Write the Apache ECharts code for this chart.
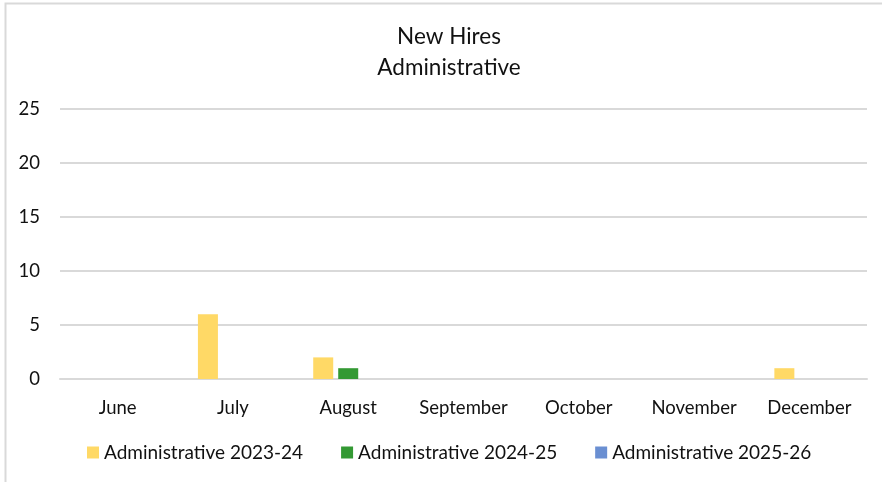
<!DOCTYPE html>
<html>
<head>
<meta charset="utf-8">
<title>New Hires - Administrative</title>
<script src="https://cdn.jsdelivr.net/npm/echarts@6/dist/echarts.min.js"></script>
<style>
  html, body { margin: 0; padding: 0; background: #fff; }
  #chart { width: 882px; height: 482px; }
</style>
</head>
<body>
<div id="chart"></div>
<script>
// data
const months = ['June', 'July', 'August', 'September', 'October', 'November', 'December']
const seriesNames = ['Administrative 2023-24', 'Administrative 2024-25', 'Administrative 2025-26']
const hires2324 = [0, 6, 2, 0, 0, 0, 1]
const hires2425 = [0, 0, 1, 0, 0, 0, 0]
const hires2526 = [0, 0, 0, 0, 0, 0, 0]
const colors = ['#FFD966', '#339933', '#6A8FD2']

const font = 'Lato, "Open Sans", "Noto Sans", sans-serif'
const chart = echarts.init(document.getElementById('chart'))

function bar(name, data, color) {
    return {
        name: name,
        type: 'bar',
        data: data,
        barWidth: 20,
        barGap: '25%',
        itemStyle: { color: color },
        animation: false
    }
}

chart.setOption({
    animation: false,
    textStyle: { fontFamily: font },
    graphic: [{
        // outer chart frame
        type: 'rect',
        shape: { x: 5.5, y: 3.5, width: 900, height: 500 },
        style: { fill: 'none', stroke: '#d9d9d9', lineWidth: 2 },
        silent: true
    }],
    title: {
        text: 'New Hires\nAdministrative',
        left: 444,
        top: 16,
        textAlign: 'center',
        textStyle: {
            fontFamily: font,
            fontSize: 22.5,
            fontWeight: 'normal',
            color: '#111',
            lineHeight: 31
        }
    },
    grid: {
        left: 60,
        right: 15,
        top: 109,
        bottom: 103,
        containLabel: false
    },
    legend: {
        data: seriesNames,
        top: 438,
        left: 82,
        itemWidth: 12,
        itemHeight: 12,
        itemGap: 38,
        icon: 'rect',
        textStyle: { fontFamily: font, fontSize: 19, color: '#111' }
    },
    xAxis: {
        type: 'category',
        data: months,
        axisLine: { lineStyle: { color: '#d9d9d9', width: 2 } },
        axisTick: { show: false },
        axisLabel: { fontFamily: font, fontSize: 18.5, color: '#111', margin: 20 }
    },
    yAxis: {
        type: 'value',
        min: 0,
        max: 25,
        interval: 5,
        axisLine: { show: false },
        axisTick: { show: false },
        axisLabel: { fontFamily: font, fontSize: 18.5, color: '#111', margin: 20 },
        splitLine: { lineStyle: { color: '#d9d9d9', width: 2 } }
    },
    series: [
        bar(seriesNames[0], hires2324, colors[0]),
        bar(seriesNames[1], hires2425, colors[1]),
        bar(seriesNames[2], hires2526, colors[2])
    ]
})
</script>
</body>
</html>
